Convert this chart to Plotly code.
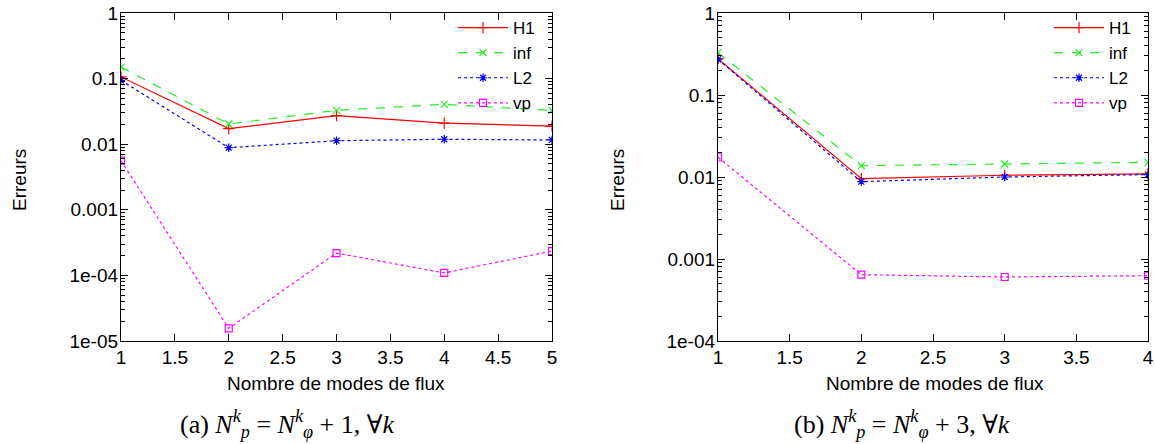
import plotly.graph_objects as go

# ---- data ----
x_a = [1, 2, 3, 4, 5]
h1_a = [0.106, 0.0173, 0.0272, 0.0210, 0.0189]
inf_a = [0.150, 0.0203, 0.0328, 0.0405, 0.0328]
l2_a = [0.094, 0.00885, 0.0113, 0.0119, 0.0116]
vp_a = [0.0056, 1.56e-5, 2.19e-4, 1.09e-4, 2.35e-4]

x_b = [1, 2, 3, 4]
h1_b = [0.277, 0.00955, 0.0105, 0.0109]
inf_b = [0.328, 0.01375, 0.0144, 0.0151]
l2_b = [0.272, 0.00877, 0.0100, 0.0107]
vp_b = [0.0174, 6.44e-4, 6.03e-4, 6.26e-4]

series_names = ["H1", "inf", "L2", "vp"]
ytick_vals_a = [1e-5, 1e-4, 1e-3, 1e-2, 1e-1, 1]
ytick_text_a = ["1e-05", "1e-04", "0.001", "0.01", "0.1", "1"]
ytick_vals_b = [1e-4, 1e-3, 1e-2, 1e-1, 1]
ytick_text_b = ["1e-04", "0.001", "0.01", "0.1", "1"]
xlabel = "Nombre de modes de flux"
ylabel = "Erreurs"
caption_a = "(a) <i>N</i><sup><i>k</i></sup><sub><i>p</i></sub> = <i>N</i><sup><i>k</i></sup><sub><i>φ</i></sub> + 1, ∀<i>k</i>"
caption_b = "(b) <i>N</i><sup><i>k</i></sup><sub><i>p</i></sub> = <i>N</i><sup><i>k</i></sup><sub><i>φ</i></sub> + 3, ∀<i>k</i>"

# ---- styles ----
W, H = 1155, 444
FONT = "Liberation Sans, Arial, sans-serif"
FS = 19
styles = {
    "H1": dict(color="#ff0000", dash="solid", symbol="cross-thin", size=8),
    "inf": dict(color="#22ee22", dash="dash", symbol="x-thin", size=7),
    "L2": dict(color="#0000ff", dash="dot", symbol="asterisk", size=7),
    "vp": dict(color="#ff00ff", dash="dot", symbol="square-open", size=7),
}

fig = go.Figure()

def add_series(xs, ys_list, xa, ya, legend):
    for name, ys in zip(series_names, ys_list):
        s = styles[name]
        fig.add_trace(go.Scatter(
            x=xs, y=ys, name=name, mode="lines+markers",
            xaxis=xa, yaxis=ya, legend=legend,
            line=dict(color=s["color"], dash=s["dash"], width=1.2),
            marker=dict(symbol=s["symbol"], size=s["size"], color=s["color"],
                        line=dict(color=s["color"], width=1.2)),
        ))

add_series(x_a, [h1_a, inf_a, l2_a, vp_a], "x", "y", "legend")
add_series(x_b, [h1_b, inf_b, l2_b, vp_b], "x2", "y2", "legend2")

def px_x(p):
    return p / W

def px_y(p):
    return 1 - p / H

axis_common = dict(
    showline=True, linecolor="black", linewidth=1.3, mirror="ticks",
    ticks="inside", ticklen=7, tickwidth=1, tickcolor="black",
    showgrid=False, zeroline=False, automargin=False,
    tickfont=dict(family=FONT, size=FS, color="black"),
)
minor_log = dict(ticks="inside", ticklen=4, tickcolor="black", dtick="D1", showgrid=False)

fig.update_layout(
    template="none",
    width=W, height=H, autosize=False,
    margin=dict(l=0, r=0, t=0, b=0, pad=0),
    paper_bgcolor="white", plot_bgcolor="white",
    font=dict(family=FONT, size=FS, color="black"),
    xaxis=dict(domain=[px_x(121), px_x(552)], range=[1, 5], dtick=0.5, anchor="y",
               ticklabelstandoff=-1, **axis_common),
    yaxis=dict(domain=[px_y(341), px_y(13)], type="log", range=[-5, 0], anchor="x",
               tickvals=ytick_vals_a, ticktext=ytick_text_a, ticklabelstandoff=-2,
               minor=minor_log, **axis_common),
    xaxis2=dict(domain=[px_x(718), px_x(1148)], range=[1, 4], dtick=0.5, anchor="y2",
                ticklabelstandoff=-1, **axis_common),
    yaxis2=dict(domain=[px_y(341), px_y(13)], type="log", range=[-4, 0], anchor="x2",
                tickvals=ytick_vals_b, ticktext=ytick_text_b, ticklabelstandoff=-2,
                minor=minor_log, **axis_common),
    legend=dict(x=px_x(540), y=px_y(10), xanchor="right", yanchor="top",
                bgcolor="rgba(0,0,0,0)", itemwidth=50,
                font=dict(family=FONT, size=17), tracegroupgap=0),
    legend2=dict(x=px_x(1136), y=px_y(10), xanchor="right", yanchor="top",
                 bgcolor="rgba(0,0,0,0)", itemwidth=50,
                 font=dict(family=FONT, size=17), tracegroupgap=0),
)

ann = []
common_ann = dict(xref="paper", yref="paper", showarrow=False,
                  xanchor="center", yanchor="middle")
# axis titles
ann.append(dict(text=xlabel, x=px_x(336), y=px_y(383), font=dict(family=FONT, size=FS), **common_ann))
ann.append(dict(text=xlabel, x=px_x(935), y=px_y(383), font=dict(family=FONT, size=FS), **common_ann))
ann.append(dict(text=ylabel, x=px_x(19), y=px_y(180), textangle=-90,
                font=dict(family=FONT, size=FS), **common_ann))
ann.append(dict(text=ylabel, x=px_x(617), y=px_y(180), textangle=-90,
                font=dict(family=FONT, size=FS), **common_ann))
# captions
SERIF = "Liberation Serif, DejaVu Serif, serif"
ann.append(dict(text=caption_a, x=px_x(287), y=px_y(424), font=dict(family=SERIF, size=26), **common_ann))
ann.append(dict(text=caption_b, x=px_x(902), y=px_y(424), font=dict(family=SERIF, size=26), **common_ann))
fig.update_layout(annotations=ann)

fig.write_html("out.html", config={"displayModeBar": False},
               post_script="document.body.style.margin='0px';")
